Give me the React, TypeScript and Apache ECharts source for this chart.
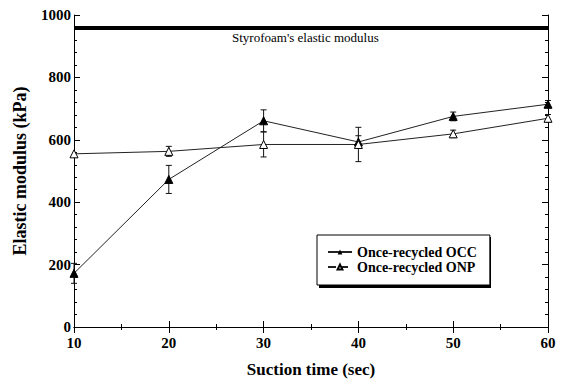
import React, { useEffect, useRef } from "react";
import * as echarts from "echarts";

const suctionTimes = [10, 20, 30, 40, 50, 60];
const occValues = [172, 473, 661, 593, 675, 714];
const occErrors = [32, 45, 35, 20, 14, 12];
const onpValues = [555, 563, 585, 585, 619, 669];
const onpErrors = [0, 16, 40, 55, 12, 12];
const styrofoamModulus = 958;
const styrofoamLabel = "Styrofoam's elastic modulus";
const seriesNames = ["Once-recycled OCC", "Once-recycled ONP"];

const FONT = "Liberation Serif";

function errorData(values: number[], errs: number[]) {
  return suctionTimes.map((x, i) => [x, values[i] - errs[i], values[i] + errs[i]]);
}

function renderError(params: any, api: any) {
  const x = api.value(0);
  const lo = api.coord([x, api.value(1)]);
  const hi = api.coord([x, api.value(2)]);
  const cap = 3;
  const style = { stroke: "#111", lineWidth: 1 };
  if (Math.abs(lo[1] - hi[1]) < 1) return { type: "group", children: [] };
  return {
    type: "group",
    children: [
      { type: "line", shape: { x1: lo[0], y1: lo[1], x2: hi[0], y2: hi[1] }, style },
      { type: "line", shape: { x1: lo[0] - cap, y1: lo[1], x2: lo[0] + cap, y2: lo[1] }, style },
      { type: "line", shape: { x1: hi[0] - cap, y1: hi[1], x2: hi[0] + cap, y2: hi[1] }, style },
    ],
  };
}

export default function App() {
  const ref = useRef<HTMLDivElement>(null);
  useEffect(() => {
    const chart = echarts.init(ref.current!, null, { renderer: "svg" });
    const axisCommon = {
      type: "value",
      axisLine: { show: true, lineStyle: { color: "#000", width: 1 } },
      axisTick: { show: true, inside: true, length: 6, lineStyle: { color: "#000" } },
      minorTick: { show: true, length: 3, lineStyle: { color: "#000" } },
      splitLine: { show: false },
    };
    const labelStyle = {
      color: "#000",
      fontFamily: FONT,
      fontWeight: "bold",
      fontSize: 15,
      formatter: (v: number) => String(v),
    };
    chart.setOption({
      animation: false,
      backgroundColor: "#fff",
      textStyle: { fontFamily: FONT },
      grid: { left: 74, right: 16, top: 15, bottom: 53, containLabel: false },
      xAxis: [
        {
          ...axisCommon,
          min: 10,
          max: 60,
          interval: 10,
          minorTick: { ...axisCommon.minorTick, splitNumber: 2 },
          axisLabel: { ...labelStyle, margin: 8 },
          name: "Suction time (sec)",
          nameLocation: "middle",
          nameGap: 34,
          nameTextStyle: { color: "#000", fontFamily: FONT, fontWeight: "bold", fontSize: 17 },
        },
        {
          ...axisCommon,
          position: "top",
          min: 10,
          max: 60,
          interval: 10,
          minorTick: { ...axisCommon.minorTick, splitNumber: 2 },
          axisLabel: { show: false },
        },
      ],
      yAxis: [
        {
          ...axisCommon,
          min: 0,
          max: 1000,
          interval: 200,
          minorTick: { ...axisCommon.minorTick, splitNumber: 5 },
          axisLabel: { ...labelStyle, margin: 3 },
          name: "Elastic modulus (kPa)",
          nameLocation: "middle",
          nameGap: 45,
          nameTextStyle: { color: "#000", fontFamily: FONT, fontWeight: "bold", fontSize: 18 },
        },
        {
          ...axisCommon,
          position: "right",
          min: 0,
          max: 1000,
          interval: 200,
          minorTick: { ...axisCommon.minorTick, splitNumber: 5 },
          axisLabel: { show: false },
        },
      ],
      legend: {
        left: 317,
        top: 235,
        orient: "vertical",
        padding: [10, 13, 11, 10],
        itemGap: 1,
        itemWidth: 24,
        itemHeight: 6,
        backgroundColor: "#fff",
        borderColor: "#000",
        borderWidth: 1,
        borderRadius: 0,
        textStyle: { color: "#000", fontFamily: FONT, fontWeight: "bold", fontSize: 14 },
        data: [
          { name: seriesNames[0] },
          { name: seriesNames[1], lineStyle: { type: "dashed" } },
        ],
      },
      graphic: [
        {
          type: "text",
          left: 232,
          top: 31,
          style: { text: styrofoamLabel, fill: "#000", fontFamily: FONT, fontSize: 13 },
        },
        {
          type: "rect",
          left: 319,
          top: 237,
          z: 1,
          shape: { width: 172, height: 51 },
          style: { fill: "#000" },
        },
      ],
      series: [
        {
          name: "styrofoam",
          type: "line",
          data: [],
          markLine: {
            silent: true,
            symbol: "none",
            label: { show: false },
            lineStyle: { color: "#000", width: 4, type: "solid" },
            data: [{ yAxis: styrofoamModulus }],
          },
        },
        {
          name: seriesNames[0],
          type: "line",
          data: suctionTimes.map((x, i) => [x, occValues[i]]),
          symbol: "triangle",
          symbolSize: 8,
          lineStyle: { color: "#222", width: 1 },
          itemStyle: { color: "#000", borderColor: "#000" },
          z: 3,
        },
        {
          name: seriesNames[1],
          type: "line",
          data: suctionTimes.map((x, i) => [x, onpValues[i]]),
          symbol: "triangle",
          symbolSize: 8,
          lineStyle: { color: "#222", width: 1 },
          itemStyle: { color: "#fff", borderColor: "#000", borderWidth: 1 },
          z: 3,
        },
        {
          name: "occErr",
          type: "custom",
          renderItem: renderError,
          data: errorData(occValues, occErrors),
          z: 2,
        },
        {
          name: "onpErr",
          type: "custom",
          renderItem: renderError,
          data: errorData(onpValues, onpErrors),
          z: 2,
        },
      ],
    });
    return () => chart.dispose();
  }, []);
  return (
    <div
      ref={ref}
      style={{ position: "fixed", left: 0, top: 0, width: 564, height: 383 }}
    />
  );
}
